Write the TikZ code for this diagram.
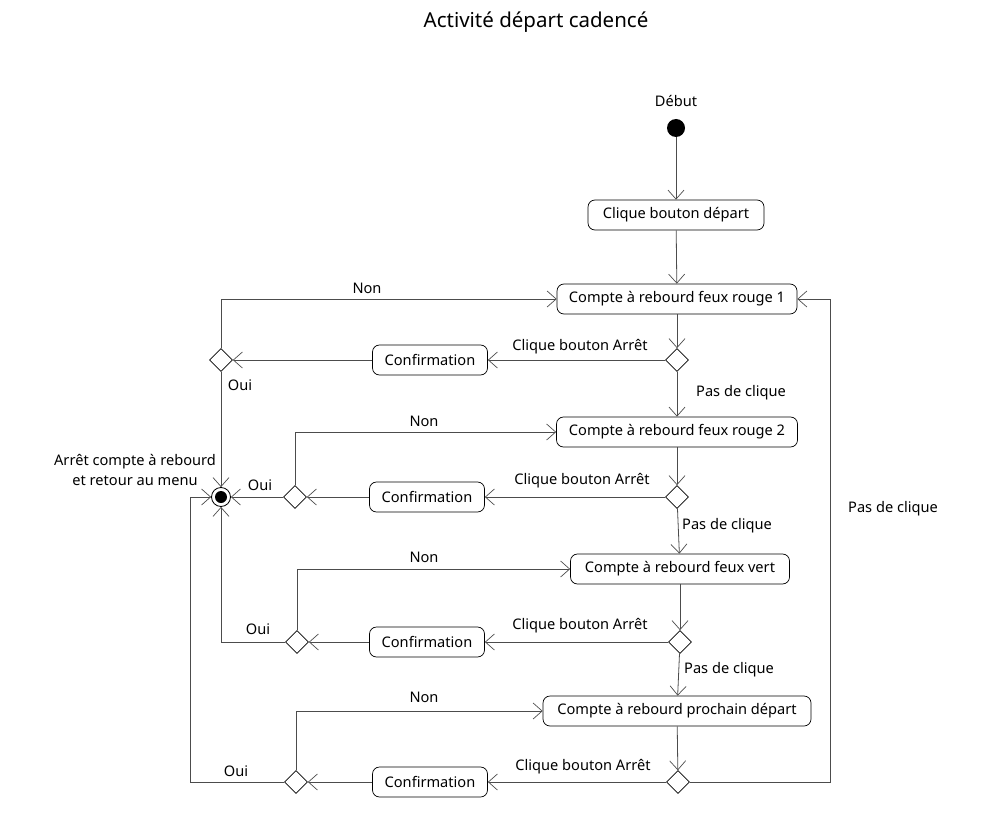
\documentclass[tikz,border=0pt]{standalone}
\usepackage{fontspec}
\setmainfont{Noto Sans}
\usetikzlibrary{shapes.geometric,arrows.meta}
\tikzset{
  act/.style={draw=black, rounded corners=7pt, line width=0.7pt, minimum height=30pt, inner xsep=4pt, font=\fontsize{14.6}{17}\selectfont},
  dec/.style={draw=black, diamond, line width=0.7pt, minimum width=23pt, minimum height=23pt, inner sep=0pt},
  conn/.style={draw=black!70, line width=0.8pt},
  arr/.style={conn, -{Straight Barb[length=9pt,width=16pt,line width=0.7pt]}},
  lbl/.style={font=\fontsize{14.6}{17}\selectfont, inner sep=0pt},
}
\begin{document}
\begin{tikzpicture}[x=1pt,y=-1pt]
\useasboundingbox (0,0) rectangle (993,813);
\node[font=\fontsize{20.5}{24}\selectfont] (title) at (536,22) {Activité départ cadencé};
\node[lbl] (debut) at (676,101) {Début};
\node[circle, fill=black, minimum size=18pt, inner sep=0pt] (start) at (676,128) {};
\node[act, minimum width=176pt] (b0) at (676,215) {Clique bouton départ};
\node[act, minimum width=240pt] (b1) at (677,299) {Compte à rebourd feux rouge 1};
\node[act, minimum width=241pt] (b2) at (677,432) {Compte à rebourd feux rouge 2};
\node[act, minimum width=219pt] (b3) at (680,569) {Compte à rebourd feux vert};
\node[act, minimum width=268pt] (b4) at (677,711) {Compte à rebourd prochain départ};
\node[dec] (d1) at (677,360) {};
\node[dec] (d2) at (677,497) {};
\node[dec] (d3) at (680,642) {};
\node[dec] (d4) at (678,782) {};
\node[act, minimum width=115pt] (c1) at (430,360) {Confirmation};
\node[act, minimum width=115pt] (c2) at (427,497) {Confirmation};
\node[act, minimum width=115pt] (c3) at (427,642) {Confirmation};
\node[act, minimum width=115pt] (c4) at (430,782) {Confirmation};
\node[dec] (l1) at (221,360) {};
\node[dec] (l2) at (295,497) {};
\node[dec] (l3) at (297,642) {};
\node[dec] (l4) at (296,782) {};
\node[circle, draw=black, line width=0.8pt, minimum size=19pt, inner sep=0pt] (fin) at (221,497) {};
\fill[black] (fin.center) circle (6pt);
\coordinate (k4) at (190,782);
\coordinate (kr) at (830,782);
% labels
\node[lbl, align=center] (finlbl) at (135,470) {Arrêt compte à rebourd\\[3pt]et retour au menu};
\node[lbl] (n1) at (367,288) {Non};
\node[lbl] (n2) at (424,421) {Non};
\node[lbl] (n3) at (424,557) {Non};
\node[lbl] (n4) at (424,697) {Non};
\node[lbl] (o1) at (240,385) {Oui};
\node[lbl] (o2) at (260,485) {Oui};
\node[lbl] (o3) at (258,629) {Oui};
\node[lbl] (o4) at (236,771) {Oui};
\node[lbl] (a1) at (580,347) {Clique bouton Arrêt};
\node[lbl] (a2) at (582,481) {Clique bouton Arrêt};
\node[lbl] (a3) at (580,626) {Clique bouton Arrêt};
\node[lbl] (a4) at (583,767) {Clique bouton Arrêt};
\node[lbl] (p1) at (741,393) {Pas de clique};
\node[lbl] (p2) at (727,526) {Pas de clique};
\node[lbl] (p3) at (729,670) {Pas de clique};
\node[lbl] (p4) at (893,509) {Pas de clique};
% connectors
\draw[arr] (start) -- (b0);
\draw[arr] (b0) -- (b1);
\draw[arr] (b1) -- (d1);
\draw[arr] (d1) -- (b2);
\draw[arr] (b2) -- (d2);
\draw[arr] (d2) -- (b3);
\draw[arr] (b3) -- (d3);
\draw[arr] (d3) -- (b4);
\draw[arr] (b4) -- (d4);
\draw[arr] (d1) -- (c1);
\draw[arr] (d2) -- (c2);
\draw[arr] (d3) -- (c3);
\draw[arr] (d4) -- (c4);
\draw[arr] (c1) -- (l1);
\draw[arr] (c2) -- (l2);
\draw[arr] (c3) -- (l3);
\draw[arr] (c4) -- (l4);
\draw[arr] (l1.north) |- (b1.west);
\draw[arr] (l2.north) |- (b2.west);
\draw[arr] (l3.north) |- (b3.west);
\draw[arr] (l4.north) |- (b4.west);
\draw[arr] (l1.south) -- (fin.north);
\draw[arr] (l2.west) -- (fin.east);
\draw[arr] (l3.west) -| (fin.south);
\draw[arr] (l4.west) -- (k4) |- (fin.west);
\draw[arr] (d4.east) -- (kr) |- (b1.east);
\end{tikzpicture}
\end{document}
